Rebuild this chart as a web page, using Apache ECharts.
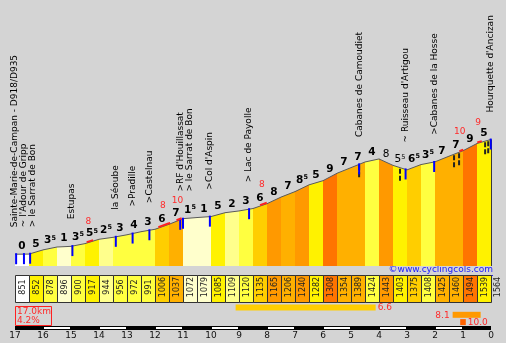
<!DOCTYPE html>
<html><head><meta charset="utf-8">
<script src="https://cdn.jsdelivr.net/npm/echarts@6/dist/echarts.min.js"></script>
<style>html,body{margin:0;padding:0;background:#d4d4d4}#c{width:506px;height:343px}</style>
</head><body><div id="c"></div>
<script>
// ---- data ----
const distances = [0,0.5,1,1.5,2,2.5,3,3.5,4,4.5,5,5.5,6,6.5,7,7.5,8,8.5,9,9.5,10,10.5,11,11.5,12,12.5,13,13.5,14,14.5,15,15.5,16,16.5,17];
const elevations = [851,852,878,896,900,917,944,956,972,991,1006,1037,1072,1079,1085,1109,1120,1135,1165,1206,1240,1282,1308,1354,1389,1424,1443,1403,1375,1408,1425,1460,1494,1539,1564];
const grades = [0,5,3.5,1,3.5,5.5,2.5,3,4,3,6,7,1.5,1,5,2,3,6,8,7,8.5,5,9,7,7,4,-8,-5.5,6.5,3.5,7,7,9,5];
const kmLabels = ['17','16','15','14','13','12','11','10','9','8','7','6','5','4','3','2','1','0'];
const placeKm = [0.32, 2.04, 3.6, 4.2, 4.82, 6.06, 6.96, 8.33, 12.32, 13.96, 15.0, 16.99];
const placeNames = [
  "Sainte-Marie-de-Campan - D918/D935\n~ l'Adour de Gripp\n> le Sarrat de Bon",
  "Estupas", "la Séoube", ">Pradille", ">Castelnau",
  ">RF d'Houillassat\n> le Sarrat de Bon", ">Col d'Aspin", "> Lac de Payolle",
  "Cabanes de Camoudiet", "~ Ruisseau d'Artigou", ">Cabanes de la Hosse", "Hourquette d'Ancizan"
];
const blueKm = [0.04, 0.32, 0.54, 2.05, 3.6, 4.2, 4.8, 5.9, 6.0, 6.96, 8.36, 12.29, 13.95, 14.97, 16.99];
const dashKm = [12.29, 13.75, 15.68, 15.86, 16.79, 16.9];
const steepFrom = [2.56, 5.12, 5.77, 8.75, 15.87, 16.51];
const steepTo = [2.79, 5.54, 5.95, 8.99, 16.01, 16.67];
const steepMax = [8, 8, 10, 8, 10, 9];
const bestFrom = [7.88, 15.63, 15.9];
const bestTo = [12.88, 16.63, 16.1];
const bestAvg = ['6.6', '8.1', '10.0'];
const totalKm = '17.0km';
const avgGrade = '4.2%';
const siteText = '©www.cyclingcols.com';

// ---- helpers ----
const FONT = '"DejaVu Sans", Verdana, sans-serif';
const Y_MIN = 778, Y_MAX = 2306;
function gradeColor(g){
  const a = Math.abs(g);
  if (a < 0.5) return '#FFFFFF';
  if (a < 2) return '#FFFFCC';
  if (a < 3) return '#FFFF8C';
  if (a < 4.5) return '#FFFF40';
  if (a < 6) return '#FFF200';
  if (a < 6.8) return '#FFCE00';
  if (a < 8) return '#FFB000';
  if (a < 9) return '#FF9900';
  if (a < 10) return '#FF7400';
  return '#FF6200';
}
function elevAt(d){
  for (let i = 0; i < distances.length - 1; i++) {
    if (d <= distances[i+1]) {
      const t = (d - distances[i]) / (distances[i+1] - distances[i]);
      return elevations[i] + t * (elevations[i+1] - elevations[i]);
    }
  }
  return elevations[elevations.length-1];
}
function gradeText(g){
  const a = Math.abs(g);
  const ip = Math.floor(a), fr = Math.round((a - ip) * 10);
  const key = g < 0 ? 'n' : 'b';
  const skey = g < 0 ? 'sn' : 's';
  return fr ? '{' + key + '|' + ip + '}{' + skey + '|' + fr + '}' : '{' + key + '|' + ip + '}';
}

const chart = echarts.init(document.getElementById('c'), null, {renderer: 'canvas'});

const segData = grades.map((g, i) => [distances[i], elevations[i], distances[i+1], elevations[i+1], g]);

const option = {
  backgroundColor: '#d4d4d4',
  animation: false,
  grid: {left: 15, right: 15, top: 20, bottom: 77},
  xAxis: {
    type: 'value', min: 0, max: 17, interval: 1,
    axisLine: {show: false}, axisTick: {show: false}, splitLine: {show: false},
    axisLabel: {
      margin: 70, verticalAlign: 'middle', color: '#111', fontFamily: FONT, fontSize: 9,
      formatter: v => kmLabels[Math.round(v)]
    }
  },
  yAxis: {type: 'value', min: Y_MIN, max: Y_MAX, show: false},
  series: [
    { // profile segments
      type: 'custom', clip: false, data: segData, encode: {x: [0, 2], y: [1, 3]},
      renderItem(params, api){
        const p0 = api.coord([api.value(0), api.value(1)]);
        const p1 = api.coord([api.value(2), api.value(3)]);
        const b0 = api.coord([api.value(0), Y_MIN]);
        const b1 = api.coord([api.value(2), Y_MIN]);
        const col = gradeColor(api.value(4));
        return {type: 'group', children: [
          {type: 'polygon', shape: {points: [b0, p0, p1, b1]}, style: {fill: col}},
          {type: 'line', shape: {x1: Math.round(p1[0]) + 0.5, y1: p1[1], x2: Math.round(b1[0]) + 0.5, y2: b1[1]}, style: {stroke: '#3a3a3a', lineWidth: 1}},
          {type: 'line', shape: {x1: p0[0], y1: p0[1], x2: p1[0], y2: p1[1]}, style: {stroke: '#5a5a5a', lineWidth: 1}}
        ]};
      }
    },
    { // black dashed marks
      type: 'custom', clip: false, data: dashKm.map(d => [d, elevAt(d)]),
      renderItem(params, api){
        const p = api.coord([api.value(0), api.value(1)]);
        return {type: 'line', shape: {x1: p[0], y1: p[1] + 1, x2: p[0], y2: p[1] + 14},
          style: {stroke: '#222', lineWidth: 2, lineDash: [5, 2]}};
      }
    },
    { // blue marks
      type: 'custom', clip: false, data: blueKm.map(d => [d, elevAt(d)]),
      renderItem(params, api){
        const p = api.coord([api.value(0), api.value(1)]);
        return {type: 'rect', shape: {x: p[0] - 1, y: p[1] - 1, width: 2, height: 11},
          style: {fill: '#0000ff'}};
      }
    },
    { // steep sections (red)
      type: 'custom', clip: false,
      data: steepFrom.map((f, i) => [f, steepTo[i], steepMax[i]]),
      renderItem(params, api){
        const f = api.value(0), t = api.value(1);
        const pts = [[f, elevAt(f)]];
        distances.forEach(d => { if (d > f && d < t) pts.push([d, elevAt(d)]); });
        pts.push([t, elevAt(t)]);
        const px = pts.map(p => { const c = api.coord(p); return [c[0], c[1] - 1]; });
        const mid = (f + t) / 2;
        const m = api.coord([mid, elevAt(mid)]);
        return {type: 'group', children: [
          {type: 'polyline', shape: {points: px}, style: {stroke: '#ff2020', lineWidth: 2, fill: null}},
          {type: 'text', x: m[0] - 1.5, y: m[1] - 20, style: {text: String(api.value(2)), align: 'center', verticalAlign: 'middle',
            font: '9px ' + FONT, fill: '#ff2a2a'}}
        ]};
      }
    },
    { // gradient labels
      type: 'custom', clip: false,
      data: grades.map((g, i) => [(distances[i] + distances[i+1]) / 2, (elevations[i] + elevations[i+1]) / 2, g]),
      renderItem(params, api){
        const p = api.coord([api.value(0), api.value(1)]);
        const g = api.value(2);
        return {type: 'text', x: p[0], y: p[1] - 2, style: {
          text: gradeText(g), align: 'center', verticalAlign: 'bottom',
          rich: {
            b: {fontFamily: FONT, fontSize: 10.5, fontWeight: 'bold', fill: '#000', lineHeight: 12},
            s: {fontFamily: FONT, fontSize: 6.5, fontWeight: 'bold', fill: '#000', lineHeight: 12, verticalAlign: 'top'},
            n: {fontFamily: FONT, fontSize: 10.5, fontWeight: 'normal', fill: '#000', lineHeight: 12},
            sn: {fontFamily: FONT, fontSize: 6.5, fontWeight: 'normal', fill: '#000', lineHeight: 12, verticalAlign: 'top'}
          }
        }};
      }
    },
    { // place names
      type: 'custom', clip: false,
      data: placeKm.map((d, i) => [d, elevAt(d), i]),
      renderItem(params, api){
        const p = api.coord([api.value(0), api.value(1)]);
        return {type: 'text', x: p[0], y: p[1] - 27, rotation: Math.PI / 2, style: {
          text: placeNames[api.value(2)], align: 'left', verticalAlign: 'middle',
          font: '9px ' + FONT, lineHeight: 9, fill: '#000'}};
      }
    },
    { // elevation boxes
      type: 'custom', clip: false,
      data: elevations.map((e, i) => [distances[i], distances[i+1] !== undefined ? distances[i+1] : distances[i], e, i < grades.length ? grades[i] : 99]),
      renderItem(params, api){
        const x0 = api.coord([api.value(0), Y_MIN])[0];
        const x1 = api.coord([api.value(1), Y_MIN])[0];
        const e = api.value(2), g = api.value(3);
        if (g === 99) {
          return {type: 'text', x: x0 + 7, y: 287, rotation: Math.PI / 2, style: {
            text: String(e), align: 'center', verticalAlign: 'middle', font: '8px ' + FONT, fill: '#222'}};
        }
        return {type: 'group', children: [
          {type: 'rect', shape: {x: Math.round(x0) + 0.5, y: 275.5, width: x1 - x0, height: 27},
            style: {fill: gradeColor(g), stroke: '#333', lineWidth: 1}},
          {type: 'text', x: (x0 + x1) / 2 + 0.5, y: 287, rotation: Math.PI / 2, style: {
            text: String(e), align: 'center', verticalAlign: 'middle', font: '8px ' + FONT, fill: '#222'}}
        ]};
      }
    },
    { // best sections bars
      type: 'custom', clip: false,
      data: bestFrom.map((f, i) => [f, bestTo[i], i]),
      renderItem(params, api){
        const i = api.value(2);
        const x0 = api.coord([api.value(0), Y_MIN])[0];
        const x1 = api.coord([api.value(1), Y_MIN])[0];
        const y = 304.5 + i * 7.3;
        const left = x1 + 28 > 495;
        return {type: 'group', children: [
          {type: 'rect', shape: {x: x0, y: y, width: x1 - x0, height: 6}, style: {fill: gradeColor(parseFloat(bestAvg[i]))}},
          {type: 'text', x: left ? x0 - 3 : x1 + 2, y: y + 3.5, style: {text: bestAvg[i], align: left ? 'right' : 'left',
            verticalAlign: 'middle', font: '9px ' + FONT, fill: '#ff2a2a'}}
        ]};
      }
    },
    { // summary box + scale bar
      type: 'custom', clip: false, data: [[0, Y_MIN]],
      renderItem(params, api){
        const xs = distances.filter(d => Number.isInteger(d)).map(d => api.coord([d, Y_MIN])[0]);
        const children = [
          {type: 'rect', shape: {x: xs[0] + 0.5, y: 306.5, width: 36, height: 19}, style: {fill: null, stroke: '#ff2020', lineWidth: 1}},
          {type: 'text', x: xs[0] + 2, y: 311.5, style: {text: totalKm, font: '9px ' + FONT, fill: '#ff2a2a', verticalAlign: 'middle'}},
          {type: 'text', x: xs[0] + 2, y: 320.5, style: {text: avgGrade, font: '9px ' + FONT, fill: '#ff2a2a', verticalAlign: 'middle'}},
          {type: 'rect', shape: {x: xs[0], y: 326, width: xs[xs.length-1] - xs[0], height: 4}, style: {fill: '#000'}}
        ];
        for (let k = 1; k < xs.length - 1; k += 2) {
          children.push({type: 'rect', shape: {x: xs[k] + 1, y: 327, width: xs[k+1] - xs[k] - 2, height: 2}, style: {fill: '#fff'}});
        }
        return {type: 'group', children};
      }
    }
  ],
  graphic: [
    {type: 'text', right: 13, top: 265, style: {text: siteText, font: '9px ' + FONT, fill: '#1a1aff'}},
    {type: 'rect', shape: {x: 386, y: 275, width: 107, height: 1}, style: {fill: '#1a1aff'}}
  ]
};
chart.setOption(option);
</script>
</body></html>
